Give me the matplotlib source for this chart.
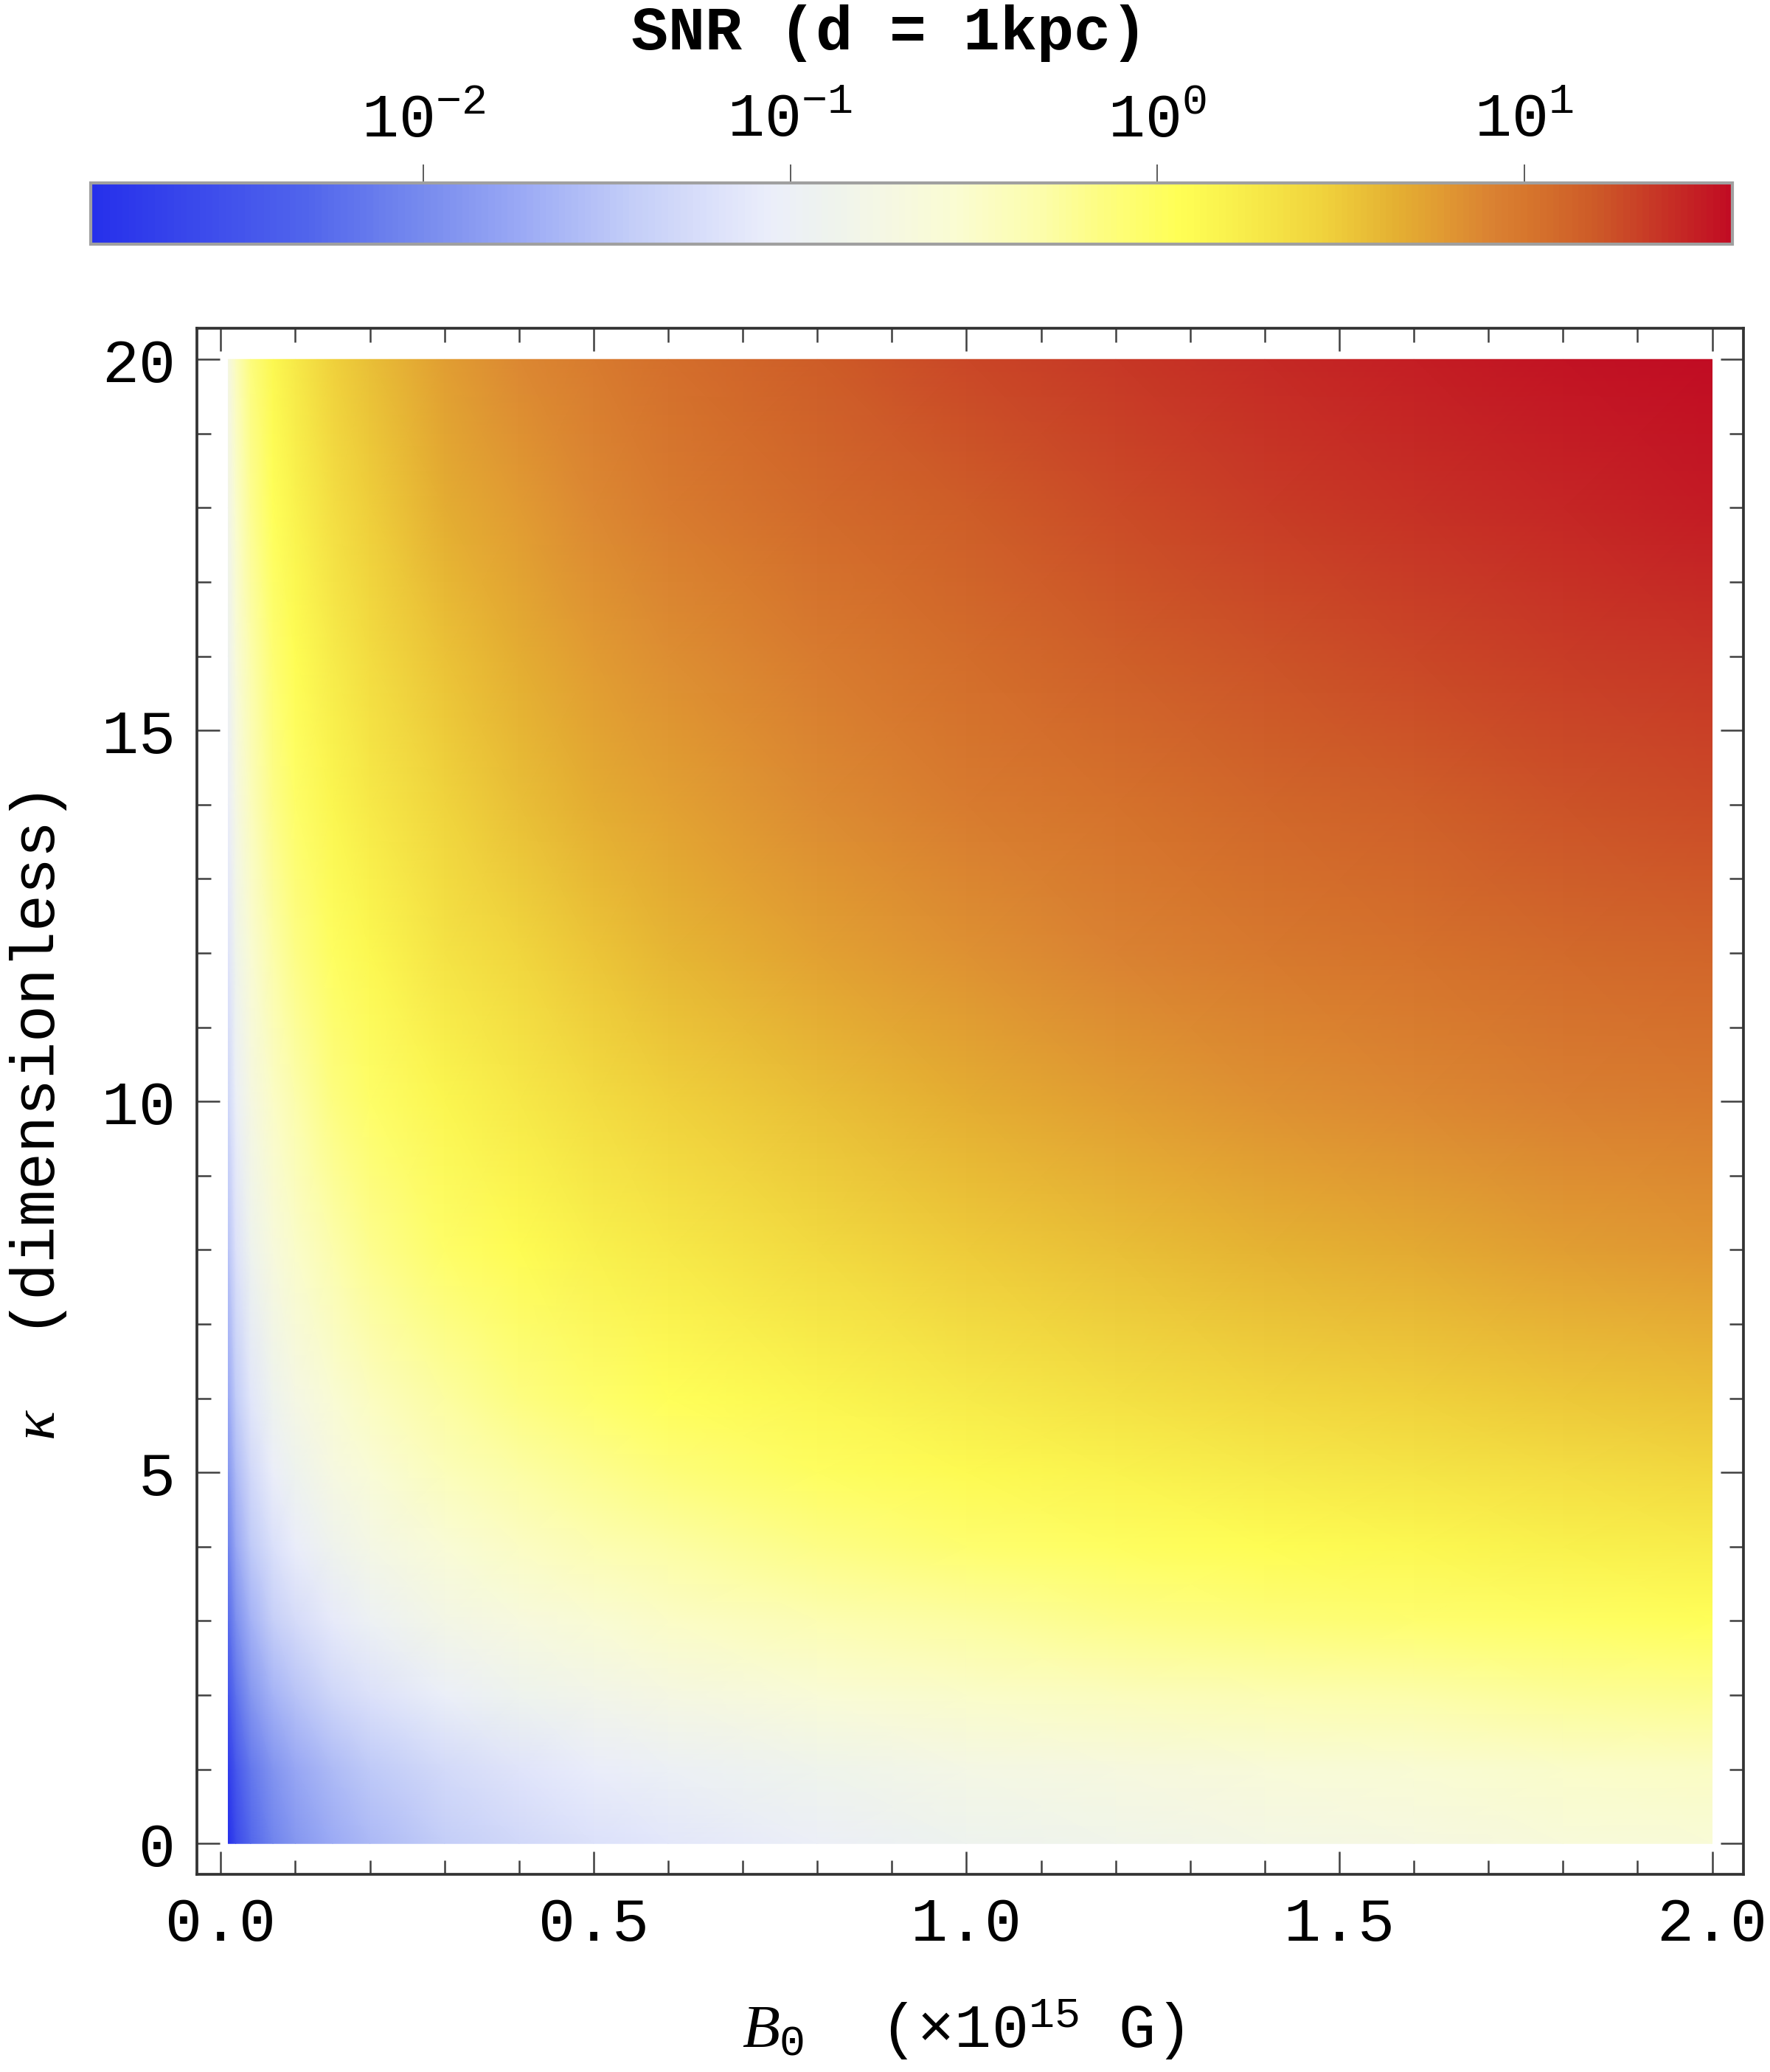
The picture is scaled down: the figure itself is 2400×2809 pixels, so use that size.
import numpy as np
import matplotlib
matplotlib.use("Agg")
import matplotlib.pyplot as plt
from matplotlib.colors import LinearSegmentedColormap, LogNorm
from matplotlib.ticker import MultipleLocator, NullLocator, FormatStrFormatter

plt.rcParams['font.family'] = ['Liberation Mono', 'DejaVu Sans']
plt.rcParams['mathtext.fontset'] = 'custom'
plt.rcParams['mathtext.rm'] = 'Liberation Mono'
plt.rcParams['mathtext.it'] = 'Liberation Serif:italic'
plt.rcParams['mathtext.bf'] = 'Liberation Mono:bold'

# grid
b0 = [0.01, 0.02, 0.04, 0.07, 0.1, 0.15, 0.2, 0.3, 0.4, 0.5, 0.6, 0.8,
      1.0, 1.2, 1.4, 1.6, 1.8, 2.0]
kappa = [0, 1, 2, 3, 4, 5, 6, 8, 10, 12, 14, 16, 18, 20]

# log10(SNR), one row per kappa value
snr_log10 = [
    [-2.91, -2.61, -2.31, -2.06, -1.91, -1.73, -1.61, -1.43, -1.31, -1.21, -1.13, -1.01, -0.91, -0.83, -0.76, -0.71, -0.65, -0.61],
    [-2.77, -2.47, -2.17, -1.92, -1.77, -1.59, -1.47, -1.29, -1.17, -1.07, -0.99, -0.87, -0.77, -0.69, -0.62, -0.57, -0.51, -0.47],
    [-2.51, -2.21, -1.91, -1.66, -1.51, -1.33, -1.21, -1.03, -0.91, -0.81, -0.73, -0.61, -0.51, -0.43, -0.36, -0.31, -0.25, -0.21],
    [-2.27, -1.97, -1.67, -1.42, -1.27, -1.09, -0.97, -0.79, -0.67, -0.57, -0.49, -0.37, -0.27, -0.19, -0.12, -0.07, -0.01, 0.03],
    [-2.07, -1.77, -1.47, -1.22, -1.07, -0.89, -0.77, -0.59, -0.47, -0.37, -0.29, -0.17, -0.07, 0.01, 0.08, 0.13, 0.19, 0.23],
    [-1.90, -1.60, -1.30, -1.05, -0.90, -0.72, -0.60, -0.42, -0.30, -0.20, -0.12, 0.00, 0.10, 0.18, 0.25, 0.30, 0.36, 0.40],
    [-1.75, -1.45, -1.15, -0.90, -0.75, -0.57, -0.45, -0.27, -0.15, -0.05, 0.03, 0.15, 0.25, 0.33, 0.40, 0.45, 0.51, 0.55],
    [-1.51, -1.21, -0.91, -0.66, -0.51, -0.33, -0.21, -0.03, 0.09, 0.19, 0.27, 0.39, 0.49, 0.57, 0.64, 0.69, 0.75, 0.79],
    [-1.33, -1.03, -0.73, -0.48, -0.33, -0.15, -0.03, 0.15, 0.27, 0.37, 0.45, 0.57, 0.67, 0.75, 0.82, 0.87, 0.93, 0.97],
    [-1.17, -0.87, -0.57, -0.32, -0.17, 0.01, 0.13, 0.31, 0.43, 0.53, 0.61, 0.73, 0.83, 0.91, 0.98, 1.03, 1.09, 1.13],
    [-1.04, -0.74, -0.44, -0.19, -0.04, 0.14, 0.26, 0.44, 0.56, 0.66, 0.74, 0.86, 0.96, 1.04, 1.11, 1.16, 1.22, 1.26],
    [-0.93, -0.63, -0.33, -0.08, 0.07, 0.25, 0.37, 0.55, 0.67, 0.77, 0.85, 0.97, 1.07, 1.15, 1.22, 1.27, 1.33, 1.37],
    [-0.82, -0.52, -0.22, 0.03, 0.18, 0.36, 0.48, 0.66, 0.78, 0.88, 0.96, 1.08, 1.18, 1.26, 1.33, 1.38, 1.44, 1.48],
    [-0.73, -0.43, -0.13, 0.12, 0.27, 0.45, 0.57, 0.75, 0.87, 0.97, 1.05, 1.17, 1.27, 1.35, 1.42, 1.47, 1.53, 1.57],
]
cbar_min_log, cbar_max_log = -2.906, 1.567

# colour map sampled from the colour bar
stops = [
    (0.000, (38, 48, 235)), (0.129, (80, 100, 236)), (0.203, (120, 140, 238)),
    (0.262, (155, 170, 245)), (0.328, (195, 205, 248)), (0.380, (220, 225, 250)),
    (0.414, (235, 238, 250)), (0.448, (238, 243, 238)), (0.482, (245, 247, 228)),
    (0.527, (250, 252, 210)), (0.580, (252, 253, 170)), (0.615, (253, 253, 130)),
    (0.663, (255, 255, 85)), (0.701, (248, 238, 75)), (0.752, (240, 210, 60)),
    (0.797, (228, 175, 50)), (0.823, (225, 155, 50)), (0.854, (218, 130, 50)),
    (0.873, (215, 120, 45)), (0.918, (205, 90, 40)), (0.949, (200, 60, 38)),
    (1.000, (193, 12, 35)),
]
cmap = LinearSegmentedColormap.from_list(
    'snr', [(t, tuple(c / 255 for c in rgb)) for t, rgb in stops])

W, H = 2400, 2809
fig = plt.figure(figsize=(W / 300, H / 300), dpi=300)
ax = fig.add_axes([267 / W, 1 - 2541 / H, (2364 - 267) / W, (2541 - 445) / H])
cax = fig.add_axes([123 / W, 1 - 331 / H, (2349 - 123) / W, (331 - 248) / H])

snr = 10 ** np.array(snr_log10)
norm = LogNorm(vmin=10 ** cbar_min_log, vmax=10 ** cbar_max_log)
mesh = ax.pcolormesh(b0, kappa, snr, cmap=cmap, norm=norm, shading='gouraud')

ax.set_xlim(-0.032, 2.042)
ax.set_ylim(-0.415, 20.42)
ax.xaxis.set_major_locator(MultipleLocator(0.5))
ax.xaxis.set_minor_locator(MultipleLocator(0.1))
ax.yaxis.set_major_locator(MultipleLocator(5))
ax.yaxis.set_minor_locator(MultipleLocator(1))
ax.xaxis.set_major_formatter(FormatStrFormatter('%.1f'))
ax.tick_params(which='both', direction='in', top=True, right=True,
               color='#404040', width=0.6, labelsize=20)
ax.tick_params(which='major', length=7.5)
ax.tick_params(which='minor', length=4.6)
ax.tick_params(axis='x', pad=7)
ax.tick_params(axis='y', pad=7)
for s in ax.spines.values():
    s.set_color('#333333')
    s.set_linewidth(0.9)

ax.set_xlabel(r'$B_0$  (×10$^{15}$ G)', fontsize=20)
ax.set_ylabel(r'$\kappa$  (dimensionless)', fontsize=20)
ax.xaxis.set_label_coords(0.495, -0.08)
ax.yaxis.set_label_coords(-0.083, 0.49)

cb = fig.colorbar(mesh, cax=cax, orientation='horizontal')
cax.xaxis.set_ticks_position('top')
cax.xaxis.set_minor_locator(NullLocator())
cax.tick_params(which='major', direction='out', length=6, width=0.4,
                color='#404040', labelsize=20, pad=5)
cb.outline.set_edgecolor('#a0a0a0')
cb.outline.set_linewidth(1.0)

fig.text(1206 / W, 1 - 45 / H, 'SNR (d = 1kpc)', ha='center', va='center',
         fontsize=20, fontweight='bold')

fig.savefig('out.png', dpi=300)
